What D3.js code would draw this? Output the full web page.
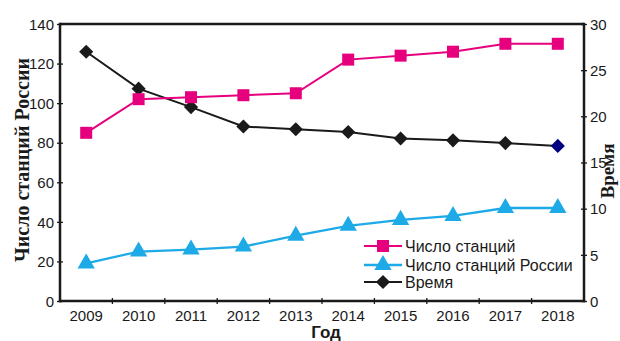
<!DOCTYPE html>
<html>
<head>
<meta charset="utf-8">
<script src="https://cdn.jsdelivr.net/npm/d3@7"></script>
<style>
  html, body { margin: 0; padding: 0; background: #fff; }
  svg { display: block; }
  text { font-family: "Liberation Sans", Arial, sans-serif; fill: #1a1a1a; }
</style>
</head>
<body>
<svg id="chart" width="620" height="341"></svg>
<script>
// Годы наблюдений
const years = ["2009", "2010", "2011", "2012", "2013", "2014", "2015", "2016", "2017", "2018"];
// Число станций (левая ось)
const stations = [85, 102, 103, 104, 105, 122, 124, 126, 130, 130];
// Число станций России (левая ось)
const stationsRussia = [19, 25, 26, 27.5, 33, 38, 41, 43, 47, 47];
// Время (правая ось)
const timeValues = [27, 23, 21, 18.9, 18.6, 18.3, 17.6, 17.4, 17.1, 16.8];
// Деления осей
const leftTicks = [0, 20, 40, 60, 80, 100, 120, 140];
const rightTicks = [0, 5, 10, 15, 20, 25, 30];
const legendLabels = ["Число станций", "Число станций России", "Время"];

const PINK = "#e6007e", CYAN = "#1eaae7", BLACK = "#1a1a1a", NAVY = "#000080";

const svg = d3.select("#chart");
const m = { left: 60, right: 584, top: 24, bottom: 301 };

const x = d3.scaleBand().domain(years).range([m.left, m.right]).padding(0);
const yL = d3.scaleLinear().domain([0, 140]).range([m.bottom, m.top]);
const yR = d3.scaleLinear().domain([0, 30]).range([m.bottom, m.top]);
const cx = d => x(d) + x.bandwidth() / 2;

// Рамка: верхняя граница
svg.append("line")
  .attr("x1", m.left).attr("x2", m.right).attr("y1", m.top).attr("y2", m.top)
  .attr("stroke", BLACK).attr("stroke-width", 2.5);

// Левая ось
const gL = svg.append("g").attr("transform", `translate(${m.left},0)`)
  .call(d3.axisLeft(yL).tickValues(leftTicks).tickSize(3).tickPadding(3).tickFormat(d3.format("d")));
gL.selectAll(".tick line").attr("x2", -3).attr("x1", 3).attr("stroke", BLACK).attr("stroke-width", 1.3);
gL.select(".domain").remove();
gL.selectAll("text").attr("font-size", 15).attr("font-family", "Liberation Sans, Arial, sans-serif").attr("fill", BLACK).attr("dy", "0.35em");
svg.append("line").attr("x1", m.left).attr("x2", m.left).attr("y1", m.top - 1.2).attr("y2", m.bottom + 1.2)
  .attr("stroke", BLACK).attr("stroke-width", 2.5);

// Правая ось
const gR = svg.append("g").attr("transform", `translate(${m.right},0)`)
  .call(d3.axisRight(yR).tickValues(rightTicks).tickSize(3).tickPadding(3));
gR.selectAll(".tick line").attr("x1", -3).attr("x2", 3).attr("stroke", BLACK).attr("stroke-width", 1.3);
gR.select(".domain").remove();
gR.selectAll("text").attr("font-size", 15).attr("font-family", "Liberation Sans, Arial, sans-serif").attr("fill", BLACK).attr("dy", "0.35em");
svg.append("line").attr("x1", m.right).attr("x2", m.right).attr("y1", m.top - 1.2).attr("y2", m.bottom + 1.2)
  .attr("stroke", BLACK).attr("stroke-width", 2.5);

// Нижняя ось: подписи по центрам годов, деления по границам
const gB = svg.append("g").attr("transform", `translate(0,${m.bottom})`)
  .call(d3.axisBottom(x).tickSize(0).tickPadding(9));
gB.select(".domain").remove();
gB.selectAll("text").attr("font-size", 15).attr("font-family", "Liberation Sans, Arial, sans-serif").attr("fill", BLACK);
svg.append("line").attr("x1", m.left - 1.2).attr("x2", m.right + 1.2).attr("y1", m.bottom).attr("y2", m.bottom)
  .attr("stroke", BLACK).attr("stroke-width", 2.5);
svg.append("g").selectAll("line").data(years.slice(1)).join("line")
  .attr("x1", d => x(d)).attr("x2", d => x(d))
  .attr("y1", m.bottom - 3).attr("y2", m.bottom + 3)
  .attr("stroke", BLACK).attr("stroke-width", 1.3);

// Подписи осей
svg.append("text").attr("x", 326).attr("y", 338).attr("text-anchor", "middle")
  .attr("font-size", 17).attr("font-weight", "bold").text("Год");
svg.append("text").attr("transform", "translate(29,160) rotate(-90)")
  .attr("text-anchor", "middle")
  .style("font-family", "'Liberation Serif', 'Times New Roman', serif")
  .attr("font-size", 20).attr("font-weight", "bold").text("Число станций России");
svg.append("text").attr("transform", "translate(614,171) rotate(-90)")
  .attr("text-anchor", "middle")
  .style("font-family", "'Liberation Serif', 'Times New Roman', serif")
  .attr("font-size", 19).attr("font-weight", "bold").text("Время");

// Серия «Время»
const lineR = d3.line().x((d, i) => cx(years[i])).y(d => yR(d));
const lineL = d3.line().x((d, i) => cx(years[i])).y(d => yL(d));

svg.append("path").datum(timeValues).attr("d", lineR)
  .attr("fill", "none").attr("stroke", BLACK).attr("stroke-width", 2);
svg.append("g").selectAll("path").data(timeValues).join("path")
  .attr("d", d3.symbol().type(d3.symbolSquare).size(100))
  .attr("transform", (d, i) => `translate(${cx(years[i])},${yR(d)}) rotate(45)`)
  .attr("fill", (d, i) => i === timeValues.length - 1 ? NAVY : BLACK);

// Серия «Число станций России»
svg.append("path").datum(stationsRussia).attr("d", lineL)
  .attr("fill", "none").attr("stroke", CYAN).attr("stroke-width", 2.3);
const tri = d3.symbol().type(d3.symbolTriangle).size(130);
svg.append("g").selectAll("path").data(stationsRussia).join("path")
  .attr("d", tri)
  .attr("transform", (d, i) => `translate(${cx(years[i])},${yL(d)})`)
  .attr("fill", CYAN);

// Серия «Число станций»
svg.append("path").datum(stations).attr("d", lineL)
  .attr("fill", "none").attr("stroke", PINK).attr("stroke-width", 2);
svg.append("g").selectAll("rect").data(stations).join("rect")
  .attr("x", (d, i) => cx(years[i]) - 6).attr("y", d => yL(d) - 6)
  .attr("width", 12).attr("height", 12).attr("fill", PINK);

// Легенда
const legendY = [246, 265, 282];
const leg = svg.append("g");
const colors = [PINK, CYAN, BLACK];
legendLabels.forEach((lab, i) => {
  const g = leg.append("g").attr("transform", `translate(0,${legendY[i]})`);
  g.append("line").attr("x1", 364).attr("x2", 402).attr("y1", 0).attr("y2", 0)
    .attr("stroke", colors[i]).attr("stroke-width", i === 1 ? 2.3 : 2);
  if (i === 0) g.append("rect").attr("x", 377).attr("y", -6).attr("width", 12).attr("height", 12).attr("fill", PINK);
  if (i === 1) g.append("path").attr("d", tri).attr("transform", "translate(383,0)").attr("fill", CYAN);
  if (i === 2) g.append("path").attr("d", d3.symbol().type(d3.symbolSquare).size(100)).attr("transform", "translate(383,0) rotate(45)").attr("fill", BLACK);
  g.append("text").attr("x", 405).attr("y", 0).attr("dy", "0.35em")
    .attr("font-size", 16).text(lab);
});
</script>
</body>
</html>
